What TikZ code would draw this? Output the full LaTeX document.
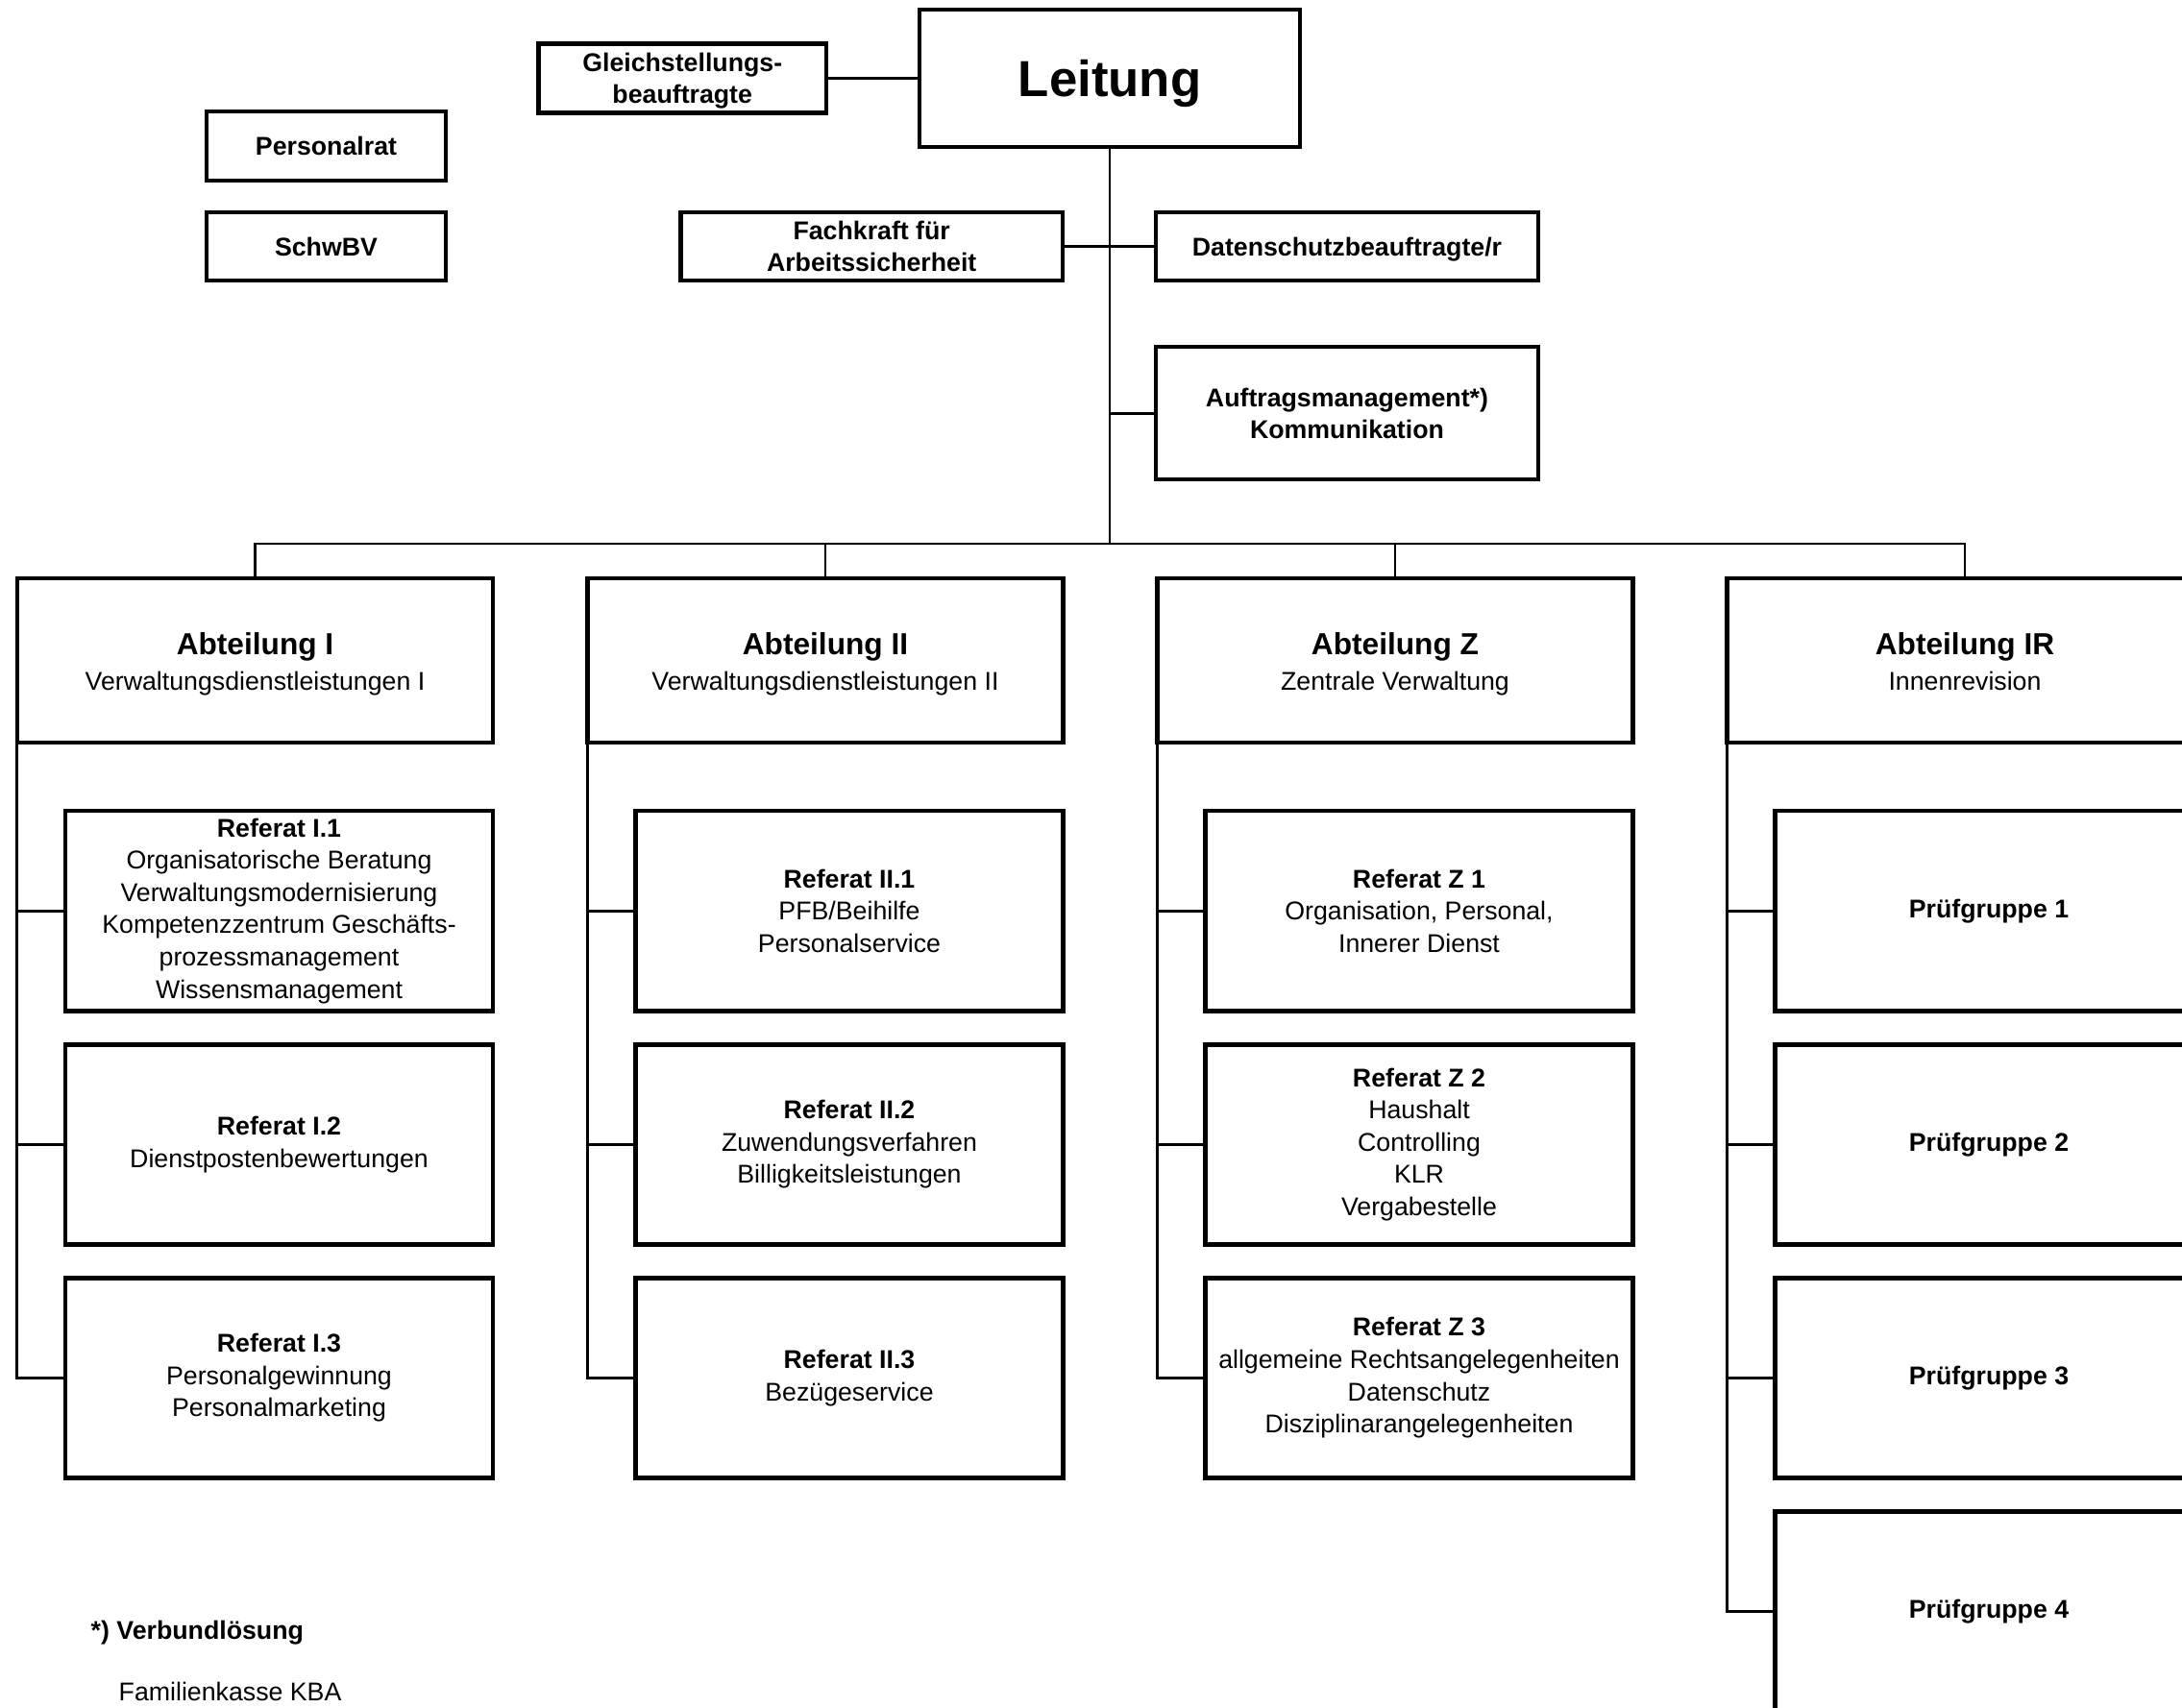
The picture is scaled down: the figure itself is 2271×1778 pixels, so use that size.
\documentclass[tikz,border=0pt]{standalone}
\usepackage{fontspec}
\setmainfont{Liberation Sans}
\usetikzlibrary{positioning}
\newcommand{\txtsize}{\fontsize{7.6}{9.55}\selectfont}
\newcommand{\abtsize}{\fontsize{9}{10.5}\selectfont}
\newcommand{\leitsize}{\fontsize{15}{18}\selectfont}
\newcommand{\abtkopf}[2]{\rule{0pt}{9pt}{\abtsize\bfseries #1}\\[0.8pt]#2\rule[-2pt]{0pt}{0pt}}
\tikzset{
	box/.style={draw, rectangle, line width=1.3pt, align=center,
		inner sep=0pt, outer sep=0pt, font=\txtsize},
	conn/.style={line width=0.8pt}
}

\begin{document}
\begin{tikzpicture}[x=0.01cm, y=-0.01cm]
	\tikzstyle{topbox} = [box, font=\bfseries\txtsize, text depth=0pt]
	\tikzstyle{abt} = [box, minimum width=4.95cm, minimum height=1.71cm]
	\tikzstyle{refbox} = [box, minimum width=4.45cm, minimum height=2.08cm]
	\useasboundingbox (0,0) rectangle (2271,1778);
	\clip (0,0) rectangle (2271,1778);

	% Leitung und Stabsstellen
	\node[topbox, minimum width=3.96cm, minimum height=1.43cm,
	font=\bfseries\leitsize] (leitung) at (1155,81.5) {Leitung};
	\node[topbox, minimum width=2.99cm, minimum height=0.72cm,
	left=0.97cm of leitung] (gleich) {Gleichstellungs-\\beauftragte};
	\node[topbox, minimum width=2.49cm, minimum height=0.72cm]
	(personalrat) at (339.5,152) {Personalrat};
	\node[topbox, minimum width=2.49cm, minimum height=0.71cm,
	below=0.33cm of personalrat] (schwbv) {SchwBV};
	\node[topbox, minimum width=3.98cm, minimum height=0.71cm]
	(datenschutz) at (1402,256.5) {Datenschutzbeauftragte/r};
	\node[topbox, minimum width=3.97cm, minimum height=0.71cm,
	left=0.97cm of datenschutz] (fachkraft) {Fachkraft f\"ur\\Arbeitssicherheit};
	\node[topbox, minimum width=3.98cm, minimum height=1.38cm,
	below=0.69cm of datenschutz] (auftrag) {Auftragsmanagement*)\\Kommunikation};
	\coordinate (bus) at (1155,566);

	% Abteilungen
	\node[abt] (abt1) at (265.5,687.5)
	{\abtkopf{Abteilung I}{Verwaltungsdienstleistungen I}};
	\node[abt] (abt2) at (859,687.5)
	{\abtkopf{Abteilung II}{Verwaltungsdienstleistungen II}};
	\node[abt] (abtz) at (1452,687.5)
	{\abtkopf{Abteilung Z}{Zentrale Verwaltung}};
	\node[abt] (abtir) at (2045,687.5)
	{\abtkopf{Abteilung IR}{Innenrevision}};

	% Referate
	\node[refbox, below left=0.71cm and 0cm of abt1.south east] (r11)
	{\textbf{Referat I.1}\\Organisatorische Beratung\\Verwaltungsmodernisierung\\
		Kompetenzzentrum Gesch\"afts-\\prozessmanagement\\Wissensmanagement};
	\node[refbox, below=0.35cm of r11] (r12)
	{\textbf{Referat I.2}\\Dienstpostenbewertungen};
	\node[refbox, below=0.35cm of r12] (r13)
	{\textbf{Referat I.3}\\Personalgewinnung\\Personalmarketing};

	\node[refbox, below left=0.71cm and 0cm of abt2.south east] (r21)
	{\textbf{Referat II.1}\\PFB/Beihilfe\\Personalservice};
	\node[refbox, below=0.35cm of r21] (r22)
	{\textbf{Referat II.2}\\Zuwendungsverfahren\\Billigkeitsleistungen};
	\node[refbox, below=0.35cm of r22] (r23)
	{\textbf{Referat II.3}\\Bez\"ugeservice};

	\node[refbox, below left=0.71cm and 0cm of abtz.south east] (rz1)
	{\textbf{Referat Z 1}\\Organisation, Personal,\\Innerer Dienst};
	\node[refbox, below=0.35cm of rz1] (rz2)
	{\textbf{Referat Z 2}\\Haushalt\\Controlling\\KLR\\Vergabestelle};
	\node[refbox, below=0.35cm of rz2] (rz3)
	{\textbf{Referat Z 3}\\allgemeine Rechtsangelegenheiten\\Datenschutz\\
		Disziplinarangelegenheiten};

	\node[refbox, font=\bfseries\txtsize,
	below left=0.71cm and 0cm of abtir.south east] (rir1) {Pr\"ufgruppe 1};
	\node[refbox, font=\bfseries\txtsize, below=0.35cm of rir1] (rir2) {Pr\"ufgruppe 2};
	\node[refbox, font=\bfseries\txtsize, below=0.35cm of rir2] (rir3) {Pr\"ufgruppe 3};
	\node[refbox, font=\bfseries\txtsize, below=0.35cm of rir3] (rir4) {Pr\"ufgruppe 4};

	% Fussnote
	\node[font=\bfseries\txtsize, anchor=base west, inner sep=0pt]
	(fussnote) at (94,1706) {*) Verbundl\"osung};
	\node[font=\txtsize, anchor=base west, inner sep=0pt]
	(verbund) at (123,1770) {Familienkasse KBA};

	% Verbindungen
	\draw[conn] (gleich) -- (leitung);
	\draw[conn] (leitung) -- (bus);
	\draw[conn] (fachkraft) -- (fachkraft -| leitung);
	\draw[conn] (datenschutz) -- (datenschutz -| leitung);
	\draw[conn] (auftrag) -- (auftrag -| leitung);
	\draw[conn] (abt1) |- (bus) -| (abtir);
	\draw[conn] (abt2) -- (abt2 |- bus);
	\draw[conn] (abtz) -- (abtz |- bus);

	\draw[conn] (abt1.south west) |- (r13);
	\draw[conn] (r11) -- (r11 -| abt1.west);
	\draw[conn] (r12) -- (r12 -| abt1.west);
	\draw[conn] (abt2.south west) |- (r23);
	\draw[conn] (r21) -- (r21 -| abt2.west);
	\draw[conn] (r22) -- (r22 -| abt2.west);
	\draw[conn] (abtz.south west) |- (rz3);
	\draw[conn] (rz1) -- (rz1 -| abtz.west);
	\draw[conn] (rz2) -- (rz2 -| abtz.west);
	\draw[conn] (abtir.south west) |- (rir4);
	\draw[conn] (rir1) -- (rir1 -| abtir.west);
	\draw[conn] (rir2) -- (rir2 -| abtir.west);
	\draw[conn] (rir3) -- (rir3 -| abtir.west);
\end{tikzpicture}
\end{document}
